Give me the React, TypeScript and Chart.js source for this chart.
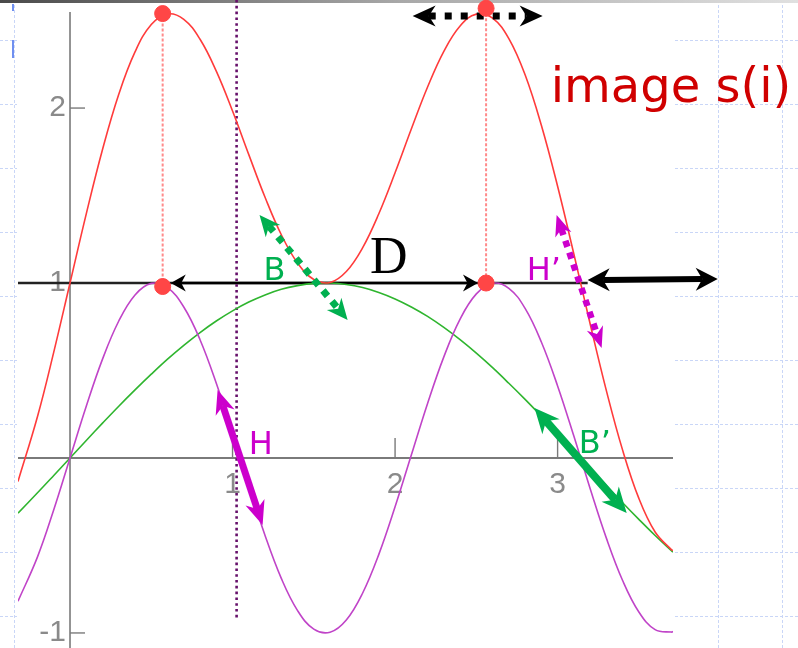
import React, { useEffect, useRef } from 'react';
import { Chart, registerables } from 'chart.js';

Chart.register(...registerables);

// ---- data ----
const xValues = [-0.32, -0.2, -0.1, 0, 0.1, 0.2, 0.3, 0.4, 0.5, 0.6, 0.7, 0.8, 0.9, 1.0, 1.1, 1.2, 1.3, 1.4, 1.5, 1.6, 1.7, 1.8, 1.9, 2.0, 2.1, 2.2, 2.3, 2.4, 2.5, 2.6, 2.7, 2.8, 2.9, 3.0, 3.1, 3.2, 3.3, 3.4, 3.5, 3.6, 3.7, 3.71];
const redValues = [-0.134, 0.237, 0.605, 1.0, 1.395, 1.763, 2.079, 2.321, 2.477, 2.538, 2.507, 2.393, 2.211, 1.983, 1.734, 1.490, 1.276, 1.114, 1.020, 1.003, 1.066, 1.201, 1.396, 1.630, 1.880, 2.120, 2.324, 2.469, 2.537, 2.514, 2.397, 2.190, 1.902, 1.553, 1.166, 0.767, 0.385, 0.045, -0.231, -0.423, -0.524, -0.529];
const purpleValues = [-0.819, -0.565, -0.296, 0, 0.296, 0.565, 0.783, 0.932, 0.998, 0.974, 0.863, 0.676, 0.427, 0.141, -0.158, -0.443, -0.688, -0.872, -0.978, -0.996, -0.926, -0.773, -0.551, -0.279, 0.017, 0.312, 0.578, 0.794, 0.938, 0.999, 0.970, 0.855, 0.663, 0.412, 0.125, -0.174, -0.458, -0.700, -0.880, -0.981, -0.995, -0.991];
const greenValues = [-0.315, -0.199, -0.100, 0, 0.100, 0.199, 0.296, 0.389, 0.479, 0.565, 0.644, 0.717, 0.783, 0.841, 0.891, 0.932, 0.964, 0.985, 0.998, 1.000, 0.992, 0.974, 0.946, 0.909, 0.863, 0.809, 0.746, 0.676, 0.599, 0.516, 0.427, 0.335, 0.239, 0.141, 0.042, -0.058, -0.158, -0.256, -0.351, -0.443, -0.530, -0.538];

const dotX = [0.57, 2.56, 0.57, 2.56];
const dotY = [2.54, 2.57, 0.98, 1.0];

const xTickValues = [1, 2, 3];
const xTickLabels = ['1', '2', '3'];
const yTickValues = [2, 1, -1];
const yTickLabels = ['2', '1', '-1'];

const X_MIN = -0.32;
const X_MAX = 3.71;
const Y_MIN = -1.086;
const Y_MAX = 2.589;

const RED = '#ff3b3b';
const PURPLE = '#c044c8';
const GREEN = '#2fb52f';
const MAGENTA = '#cc00cc';
const DGREEN = '#00b050';

type ArrowOpt = { color: string; width: number; headLen: number; headWid: number; dash?: number[]; both?: boolean };

function drawArrow(ctx: CanvasRenderingContext2D, x1: number, y1: number, x2: number, y2: number, o: ArrowOpt) {
  const dx = x2 - x1, dy = y2 - y1;
  const L = Math.hypot(dx, dy);
  const ux = dx / L, uy = dy / L;
  const nx = -uy, ny = ux;
  const notch = o.headLen * 0.7;
  ctx.save();
  ctx.strokeStyle = o.color;
  ctx.fillStyle = o.color;
  ctx.lineWidth = o.width;
  ctx.lineCap = 'butt';
  if (o.dash) ctx.setLineDash(o.dash);
  ctx.beginPath();
  const s = o.both ? notch : 0;
  ctx.moveTo(x1 + ux * s, y1 + uy * s);
  ctx.lineTo(x2 - ux * notch, y2 - uy * notch);
  ctx.stroke();
  ctx.setLineDash([]);
  const head = (tx: number, ty: number, bx0: number, by0: number) => {
    const bx = tx + bx0 * o.headLen, by = ty + by0 * o.headLen;
    const hw = o.headWid / 2;
    ctx.beginPath();
    ctx.moveTo(tx, ty);
    ctx.lineTo(bx + nx * hw, by + ny * hw);
    ctx.lineTo(tx + bx0 * notch, ty + by0 * notch);
    ctx.lineTo(bx - nx * hw, by - ny * hw);
    ctx.closePath();
    ctx.fill();
  };
  head(x2, y2, -ux, -uy);
  if (o.both) head(x1, y1, ux, uy);
  ctx.restore();
}

const bgPlugin = {
  id: 'bgPlugin',
  beforeDraw(chart: any) {
    const ctx: CanvasRenderingContext2D = chart.ctx;
    const { width, height, chartArea: ca } = chart;
    ctx.save();
    ctx.fillStyle = '#ffffff';
    ctx.fillRect(0, 0, width, height);
    ctx.strokeStyle = '#c9d6f7';
    ctx.lineWidth = 1;
    ctx.setLineDash([3, 2]);
    for (let x = 14; x < width; x += 64) {
      ctx.beginPath(); ctx.moveTo(x + 0.5, 0); ctx.lineTo(x + 0.5, height); ctx.stroke();
    }
    for (let y = 40; y < height; y += 64) {
      ctx.beginPath(); ctx.moveTo(0, y + 0.5); ctx.lineTo(width, y + 0.5); ctx.stroke();
    }
    ctx.setLineDash([]);
    ctx.fillStyle = '#ffffff';
    ctx.fillRect(ca.left - 1, ca.top, ca.right - ca.left + 2, height - ca.top);
    const g = ctx.createLinearGradient(0, 0, width, 0);
    g.addColorStop(0, '#4a4a4a');
    g.addColorStop(0.5, '#a8a8a8');
    g.addColorStop(1, '#e0e0e0');
    ctx.fillStyle = g;
    ctx.fillRect(0, 0, width, 3);
    ctx.fillStyle = '#6f8ff0';
    ctx.fillRect(12, 4, 2, 7);
    ctx.fillRect(12, 40, 2, 18);
    ctx.restore();
  },
  beforeDatasetsDraw(chart: any) {
    const ctx: CanvasRenderingContext2D = chart.ctx;
    const xs = chart.scales.x, ys = chart.scales.y;
    const ca = chart.chartArea;
    const H = chart.height;
    const x0 = xs.getPixelForValue(0), y0 = ys.getPixelForValue(0);
    ctx.save();
    // axes
    ctx.strokeStyle = '#7a7a7a';
    ctx.lineWidth = 1.6;
    ctx.beginPath(); ctx.moveTo(x0, 12); ctx.lineTo(x0, H); ctx.stroke();
    ctx.lineWidth = 2;
    ctx.beginPath(); ctx.moveTo(ca.left, y0); ctx.lineTo(ca.right, y0); ctx.stroke();
    ctx.lineWidth = 1.4;
    ctx.fillStyle = '#8a8a8a';
    ctx.font = '30px "Liberation Sans Narrow", "Liberation Sans", sans-serif';
    // y ticks
    yTickValues.forEach((v, i) => {
      const py = ys.getPixelForValue(v);
      ctx.beginPath(); ctx.moveTo(x0, py); ctx.lineTo(x0 + 15, py); ctx.stroke();
      ctx.textAlign = 'right';
      ctx.textBaseline = 'alphabetic';
      ctx.fillText(yTickLabels[i], x0 - 4, py + 8);
    });
    // x ticks
    xTickValues.forEach((v, i) => {
      const px = xs.getPixelForValue(v);
      ctx.beginPath(); ctx.moveTo(px, y0); ctx.lineTo(px, y0 - 20); ctx.stroke();
      ctx.textAlign = 'center';
      ctx.textBaseline = 'alphabetic';
      ctx.fillText(xTickLabels[i], px, y0 + 35);
    });
    // y = 1 line
    const y1 = ys.getPixelForValue(1);
    ctx.strokeStyle = '#222';
    ctx.lineWidth = 2.5;
    ctx.beginPath(); ctx.moveTo(ca.left, y1); ctx.lineTo(xs.getPixelForValue(3.185), y1); ctx.stroke();
    // D arrow
    drawArrow(ctx, xs.getPixelForValue(0.62), y1, xs.getPixelForValue(2.51), y1,
      { color: '#000', width: 2.5, headLen: 15, headWid: 17, both: true });
    // purple dotted vertical
    ctx.strokeStyle = '#66106a';
    ctx.lineWidth = 2.6;
    ctx.setLineDash([2.6, 3.2]);
    const vx = xs.getPixelForValue(1.025);
    ctx.beginPath(); ctx.moveTo(vx, 0); ctx.lineTo(vx, ys.getPixelForValue(-0.92)); ctx.stroke();
    // pink dotted verticals
    ctx.strokeStyle = '#ff8a8a';
    ctx.lineWidth = 2;
    ctx.setLineDash([3, 2]);
    for (let i = 0; i < 2; i++) {
      const px = xs.getPixelForValue(dotX[i]);
      ctx.beginPath(); ctx.moveTo(px, ys.getPixelForValue(dotY[i])); ctx.lineTo(px, ys.getPixelForValue(dotY[i + 2])); ctx.stroke();
    }
    ctx.restore();
  },
  beforeDatasetDraw(chart: any, args: any) {
    if (args.index !== 0) return;
    const ctx: CanvasRenderingContext2D = chart.ctx;
    const xs = chart.scales.x, ys = chart.scales.y;
    const P = (x: number, y: number) => [xs.getPixelForValue(x), ys.getPixelForValue(y)];
    const arrow = (a: number[], b: number[], o: ArrowOpt) => {
      const [x1, y1] = P(a[0], a[1]);
      const [x2, y2] = P(b[0], b[1]);
      drawArrow(ctx, x1, y1, x2, y2, o);
    };
    // top dotted black arrow
    arrow([2.108, 2.526], [2.908, 2.526], { color: '#000', width: 7, headLen: 23, headWid: 21, dash: [7, 9], both: true });
    // right thick black arrow
    arrow([3.185, 1.017], [3.985, 1.023], { color: '#000', width: 6, headLen: 22, headWid: 23, both: true });
    // green dotted B
    arrow([1.166, 1.389], [1.708, 0.789], { color: DGREEN, width: 7, headLen: 21, headWid: 19, dash: [7, 7], both: true });
    // magenta dotted H'
    arrow([2.994, 1.389], [3.271, 0.629], { color: MAGENTA, width: 6.5, headLen: 21, headWid: 17, dash: [6.5, 6], both: true });
    // magenta solid H
    arrow([0.908, 0.389], [1.185, -0.383], { color: MAGENTA, width: 7, headLen: 24, headWid: 20, both: true });
    // green solid B'
    arrow([2.858, 0.286], [3.425, -0.314], { color: DGREEN, width: 8, headLen: 25, headWid: 23, both: true });

    ctx.save();
    ctx.textAlign = 'left';
    ctx.textBaseline = 'alphabetic';
    const text = (s: string, x: number, y: number, font: string, color: string) => {
      const [px, py] = P(x, y);
      ctx.font = font;
      ctx.fillStyle = color;
      ctx.fillText(s, px, py);
    };
    const sans = '32px "DejaVu Sans", Verdana, sans-serif';
    text('B', 1.19, 1.017, sans, DGREEN);
    text('H\u2019', 2.81, 1.017, sans, MAGENTA);
    text('H', 1.10, 0.023, sans, MAGENTA);
    text('B\u2019', 3.13, 0.029, sans, DGREEN);
    text('D', 1.845, 1.057, '52px "Liberation Serif", "Times New Roman", serif', '#000');
    text('image s(i)', 2.958, 2.034, '48px "DejaVu Sans", Verdana, sans-serif', '#d00000');
    ctx.restore();
  },
};

export default function App() {
  const ref = useRef<HTMLCanvasElement | null>(null);
  useEffect(() => {
    if (!ref.current) return;
    const mk = (vals: number[]) => xValues.map((x, i) => ({ x, y: vals[i] }));
    const chart = new Chart(ref.current, {
      type: 'line',
      data: {
        datasets: [
          {
            type: 'scatter',
            data: dotX.map((x, i) => ({ x, y: dotY[i] })),
            backgroundColor: '#ff4646',
            borderColor: '#ff4646',
            pointRadius: 8,
            pointHoverRadius: 8,
            showLine: false,
            clip: false,
          } as any,
          { data: mk(redValues), borderColor: RED, borderWidth: 1.6, pointRadius: 0, tension: 0.4, fill: false },
          { data: mk(purpleValues), borderColor: PURPLE, borderWidth: 1.6, pointRadius: 0, tension: 0.4, fill: false },
          { data: mk(greenValues), borderColor: GREEN, borderWidth: 1.6, pointRadius: 0, tension: 0.4, fill: false },
        ],
      },
      options: {
        responsive: false,
        animation: false,
        events: [],
        layout: { autoPadding: false, padding: { left: 18, right: 125, top: 5, bottom: 0 } },
        plugins: { legend: { display: false }, tooltip: { enabled: false }, title: { display: false } },
        scales: {
          x: { type: 'linear', min: X_MIN, max: X_MAX, display: false },
          y: { type: 'linear', min: Y_MIN, max: Y_MAX, display: false },
        },
      },
      plugins: [bgPlugin],
    });
    return () => chart.destroy();
  }, []);
  return (
    <div style={{ position: 'fixed', left: 0, top: 0, width: 798, height: 648, background: '#fff' }}>
      <canvas ref={ref} width={798} height={648} style={{ display: 'block' }} />
    </div>
  );
}
